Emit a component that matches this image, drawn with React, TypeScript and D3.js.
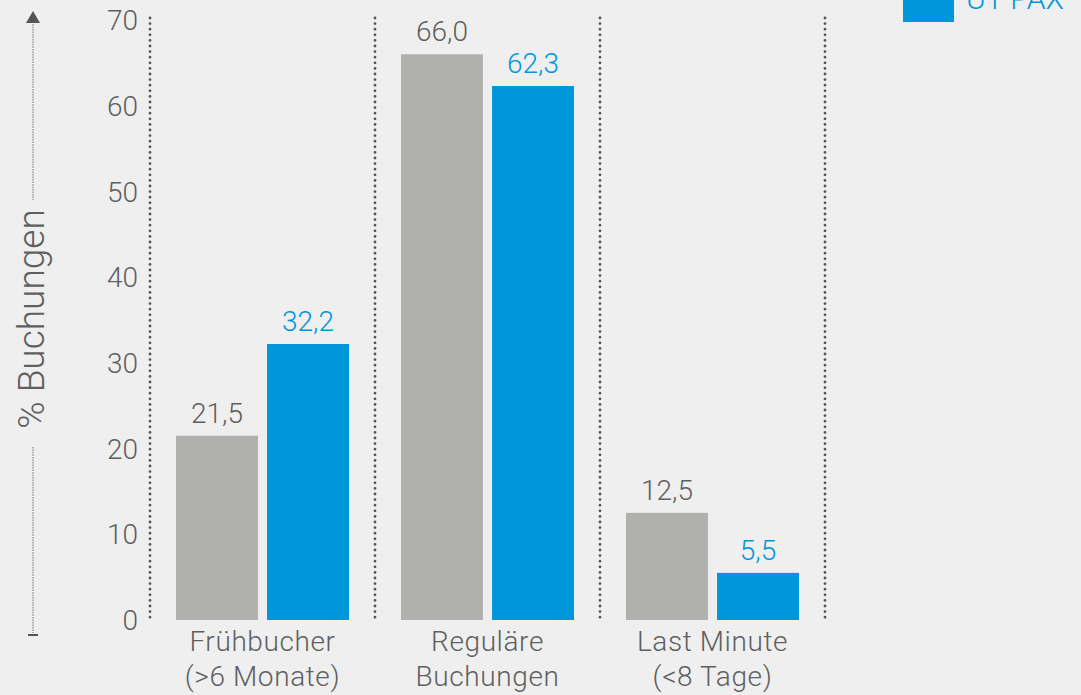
import * as d3 from "d3";
import { useEffect, useRef } from "react";

const categories = [
  ["Frühbucher", "(>6 Monate)"],
  ["Reguläre", "Buchungen"],
  ["Last Minute", "(<8 Tage)"],
];
const grayValues = [21.5, 66.0, 12.5];
const blueValues = [32.2, 62.3, 5.5];
const yTicks = [0, 10, 20, 30, 40, 50, 60, 70];
const legendLabel = "UT PAX";

const W = 1081;
const H = 695;
const GRAY = "#b0b0ae";
const BLUE = "#0096db";
const TEXT = "#5f5f5f";
const FONT = "Roboto, 'Noto Sans', sans-serif";

const App = () => {
  const ref = useRef<SVGSVGElement>(null);

  useEffect(() => {
    const svg = d3.select(ref.current);
    svg.selectAll("*").remove();

    const margin = { top: 20, bottom: 75, left: 150, right: 256 };
    const innerH = H - margin.top - margin.bottom;

    const x = d3
      .scaleBand<number>()
      .domain(categories.map((_, i) => i))
      .range([margin.left, W - margin.right]);
    const sub = d3
      .scaleBand<string>()
      .domain(["gray", "blue"])
      .range([26, x.bandwidth() - 26])
      .paddingInner(0.1);
    const y = d3.scaleLinear().domain([0, 70]).range([margin.top + innerH, margin.top]);

    svg.append("rect").attr("width", W).attr("height", H).attr("fill", "#efefef");

    // dotted separators
    const seps = [...categories.map((_, i) => x(i)!), x(categories.length - 1)! + x.bandwidth()];
    svg
      .selectAll(".sep")
      .data(seps)
      .enter()
      .append("line")
      .attr("x1", d => d)
      .attr("x2", d => d)
      .attr("y1", y(70) - 2)
      .attr("y2", y(0))
      .attr("stroke", "#555")
      .attr("stroke-width", 2.8)
      .attr("stroke-linecap", "round")
      .attr("stroke-dasharray", "0 5.6");

    // y tick labels
    svg
      .selectAll(".yt")
      .data(yTicks)
      .enter()
      .append("text")
      .attr("x", margin.left - 12)
      .attr("y", d => y(d))
      .attr("dy", "0.36em")
      .attr("text-anchor", "end")
      .attr("font-family", FONT)
      .attr("font-weight", 300)
      .attr("font-size", 28)
      .attr("fill", TEXT)
      .text(d => d);

    // bars
    const series = [
      { key: "gray", values: grayValues, color: GRAY, label: TEXT },
      { key: "blue", values: blueValues, color: BLUE, label: BLUE },
    ];
    series.forEach(s => {
      const g = svg.append("g");
      g.selectAll("rect")
        .data(s.values)
        .enter()
        .append("rect")
        .attr("x", (_, i) => x(i)! + sub(s.key)!)
        .attr("y", d => y(d))
        .attr("width", sub.bandwidth())
        .attr("height", d => y(0) - y(d))
        .attr("fill", s.color);
      g.selectAll("text")
        .data(s.values)
        .enter()
        .append("text")
        .attr("x", (_, i) => x(i)! + sub(s.key)! + sub.bandwidth() / 2)
        .attr("y", d => y(d) - 13)
        .attr("text-anchor", "middle")
        .attr("font-family", FONT)
        .attr("font-weight", 300)
        .attr("font-size", 28)
        .attr("fill", s.label)
        .text(d => d3.format(".1f")(d).replace(".", ","));
    });

    // category labels
    categories.forEach((lines, i) => {
      const t = svg
        .append("text")
        .attr("text-anchor", "middle")
        .attr("font-family", FONT)
        .attr("font-weight", 300)
        .attr("font-size", 28)
        .attr("letter-spacing", 0.6)
        .attr("fill", TEXT);
      lines.forEach((l, j) => {
        t.append("tspan")
          .attr("x", x(i)! + x.bandwidth() / 2)
          .attr("y", 651 + j * 35)
          .text(l);
      });
    });

    // y axis title with arrow line
    const ax = 33;
    svg
      .append("text")
      .attr("transform", `translate(${ax + 11}, ${319}) rotate(-90)`)
      .attr("text-anchor", "middle")
      .attr("font-family", FONT)
      .attr("font-weight", 300)
      .attr("font-size", 37)
      .attr("fill", TEXT)
      .text("% Buchungen");
    [
      [24, 200],
      [447, 633],
    ].forEach(([a, b]) => {
      svg
        .append("line")
        .attr("x1", ax)
        .attr("x2", ax)
        .attr("y1", a)
        .attr("y2", b)
        .attr("stroke", "#888")
        .attr("stroke-width", 1.2)
        .attr("stroke-dasharray", "1.5 1");
    });
    svg
      .append("path")
      .attr("d", `M${ax - 7},23 L${ax},11 L${ax + 7},23 Z`)
      .attr("fill", "#555");
    svg
      .append("line")
      .attr("x1", ax - 5)
      .attr("x2", ax + 5)
      .attr("y1", 635)
      .attr("y2", 635)
      .attr("stroke", "#555")
      .attr("stroke-width", 2);

    // legend (cut at top)
    svg.append("rect").attr("x", 903).attr("y", -30).attr("width", 51).attr("height", 52).attr("fill", BLUE);
    svg
      .append("text")
      .attr("x", 966)
      .attr("y", 9)
      .attr("font-family", FONT)
      .attr("font-weight", 300)
      .attr("font-size", 30)
      .attr("fill", BLUE)
      .text(legendLabel);
  }, []);

  return (
    <svg
      ref={ref}
      width={W}
      height={H}
      style={{ position: "absolute", left: 0, top: 0, display: "block" }}
    />
  );
};

export default App;
